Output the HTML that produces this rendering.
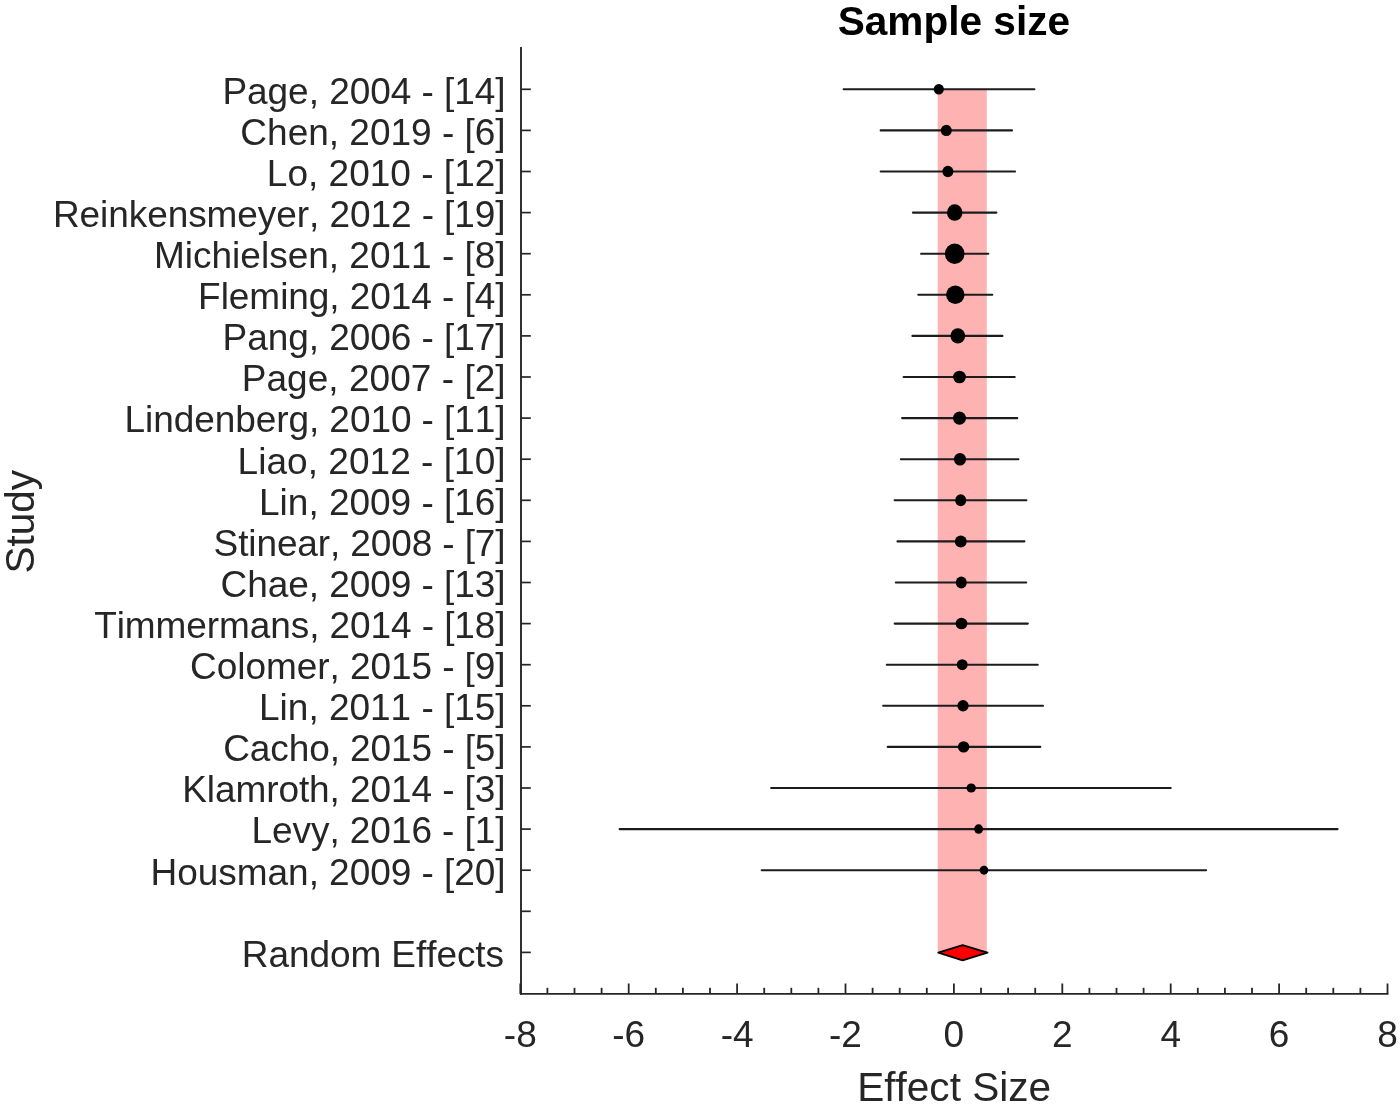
<!DOCTYPE html>
<html><head><meta charset="utf-8"><title>Sample size</title>
<style>
html,body{margin:0;padding:0;background:#fff;width:1400px;height:1107px;overflow:hidden}
svg{display:block;filter:blur(0.4px);font-family:"Liberation Sans",sans-serif;font-kerning:none}
</style></head><body>
<svg width="1400" height="1107" viewBox="0 0 1400 1107">
<rect width="1400" height="1107" fill="#fff"/>
<rect x="937.7" y="89.30" width="49.10" height="863.10" fill="#FFB2B2"/>
<line x1="843.6" y1="89.30" x2="1034.4" y2="89.30" stroke="#1c1c1c" stroke-width="2.1" stroke-linecap="round"/>
<line x1="880.7" y1="130.40" x2="1012.0" y2="130.40" stroke="#1c1c1c" stroke-width="2.1" stroke-linecap="round"/>
<line x1="880.7" y1="171.50" x2="1015.0" y2="171.50" stroke="#1c1c1c" stroke-width="2.1" stroke-linecap="round"/>
<line x1="912.9" y1="212.60" x2="996.4" y2="212.60" stroke="#1c1c1c" stroke-width="2.1" stroke-linecap="round"/>
<line x1="921.1" y1="253.70" x2="988.3" y2="253.70" stroke="#1c1c1c" stroke-width="2.1" stroke-linecap="round"/>
<line x1="918.3" y1="294.80" x2="992.3" y2="294.80" stroke="#1c1c1c" stroke-width="2.1" stroke-linecap="round"/>
<line x1="912.4" y1="335.90" x2="1002.4" y2="335.90" stroke="#1c1c1c" stroke-width="2.1" stroke-linecap="round"/>
<line x1="903.6" y1="377.00" x2="1014.7" y2="377.00" stroke="#1c1c1c" stroke-width="2.1" stroke-linecap="round"/>
<line x1="902.1" y1="418.10" x2="1017.3" y2="418.10" stroke="#1c1c1c" stroke-width="2.1" stroke-linecap="round"/>
<line x1="900.9" y1="459.20" x2="1018.4" y2="459.20" stroke="#1c1c1c" stroke-width="2.1" stroke-linecap="round"/>
<line x1="894.6" y1="500.30" x2="1026.4" y2="500.30" stroke="#1c1c1c" stroke-width="2.1" stroke-linecap="round"/>
<line x1="897.5" y1="541.40" x2="1024.4" y2="541.40" stroke="#1c1c1c" stroke-width="2.1" stroke-linecap="round"/>
<line x1="895.8" y1="582.50" x2="1026.2" y2="582.50" stroke="#1c1c1c" stroke-width="2.1" stroke-linecap="round"/>
<line x1="894.7" y1="623.60" x2="1027.8" y2="623.60" stroke="#1c1c1c" stroke-width="2.1" stroke-linecap="round"/>
<line x1="886.8" y1="664.70" x2="1037.7" y2="664.70" stroke="#1c1c1c" stroke-width="2.1" stroke-linecap="round"/>
<line x1="883.2" y1="705.80" x2="1043.0" y2="705.80" stroke="#1c1c1c" stroke-width="2.1" stroke-linecap="round"/>
<line x1="887.7" y1="746.90" x2="1040.3" y2="746.90" stroke="#1c1c1c" stroke-width="2.1" stroke-linecap="round"/>
<line x1="771.1" y1="788.00" x2="1170.7" y2="788.00" stroke="#1c1c1c" stroke-width="2.1" stroke-linecap="round"/>
<line x1="619.6" y1="829.10" x2="1337.6" y2="829.10" stroke="#1c1c1c" stroke-width="2.1" stroke-linecap="round"/>
<line x1="761.7" y1="870.20" x2="1206.1" y2="870.20" stroke="#1c1c1c" stroke-width="2.1" stroke-linecap="round"/>
<ellipse cx="938.8" cy="89.30" rx="5.10" ry="5.25" fill="#000"/>
<ellipse cx="946.3" cy="130.40" rx="5.50" ry="5.65" fill="#000"/>
<ellipse cx="947.9" cy="171.50" rx="5.50" ry="5.75" fill="#000"/>
<ellipse cx="954.7" cy="212.60" rx="7.75" ry="8.25" fill="#000"/>
<ellipse cx="954.7" cy="253.70" rx="9.80" ry="10.20" fill="#000"/>
<ellipse cx="955.3" cy="294.80" rx="9.25" ry="9.25" fill="#000"/>
<ellipse cx="957.8" cy="335.90" rx="7.35" ry="7.65" fill="#000"/>
<ellipse cx="959.5" cy="377.00" rx="6.40" ry="6.30" fill="#000"/>
<ellipse cx="959.5" cy="418.10" rx="6.50" ry="6.65" fill="#000"/>
<ellipse cx="960.0" cy="459.20" rx="6.00" ry="6.30" fill="#000"/>
<ellipse cx="960.7" cy="500.30" rx="5.50" ry="6.00" fill="#000"/>
<ellipse cx="960.8" cy="541.40" rx="5.95" ry="6.00" fill="#000"/>
<ellipse cx="961.3" cy="582.50" rx="5.50" ry="6.00" fill="#000"/>
<ellipse cx="961.5" cy="623.60" rx="5.90" ry="5.75" fill="#000"/>
<ellipse cx="962.2" cy="664.70" rx="5.45" ry="5.45" fill="#000"/>
<ellipse cx="963.0" cy="705.80" rx="5.65" ry="5.70" fill="#000"/>
<ellipse cx="963.6" cy="746.90" rx="5.65" ry="5.70" fill="#000"/>
<ellipse cx="971.2" cy="788.00" rx="4.70" ry="4.60" fill="#000"/>
<ellipse cx="978.6" cy="829.10" rx="4.45" ry="4.75" fill="#000"/>
<ellipse cx="984.0" cy="870.20" rx="4.35" ry="4.45" fill="#000"/>
<polygon points="938.3,952.70 962.6,945.10 987.5,952.70 962.6,960.30" fill="#FF0000" stroke="#000" stroke-width="1.9" stroke-linejoin="round"/>
<line x1="521.0" y1="47" x2="521.0" y2="994.8" stroke="#262626" stroke-width="1.9"/>
<line x1="520.05" y1="993.9" x2="1388.45" y2="993.9" stroke="#262626" stroke-width="1.9"/>
<line x1="521.0" y1="89.30" x2="530.8" y2="89.30" stroke="#262626" stroke-width="1.7"/>
<line x1="521.0" y1="130.40" x2="530.8" y2="130.40" stroke="#262626" stroke-width="1.7"/>
<line x1="521.0" y1="171.50" x2="530.8" y2="171.50" stroke="#262626" stroke-width="1.7"/>
<line x1="521.0" y1="212.60" x2="530.8" y2="212.60" stroke="#262626" stroke-width="1.7"/>
<line x1="521.0" y1="253.70" x2="530.8" y2="253.70" stroke="#262626" stroke-width="1.7"/>
<line x1="521.0" y1="294.80" x2="530.8" y2="294.80" stroke="#262626" stroke-width="1.7"/>
<line x1="521.0" y1="335.90" x2="530.8" y2="335.90" stroke="#262626" stroke-width="1.7"/>
<line x1="521.0" y1="377.00" x2="530.8" y2="377.00" stroke="#262626" stroke-width="1.7"/>
<line x1="521.0" y1="418.10" x2="530.8" y2="418.10" stroke="#262626" stroke-width="1.7"/>
<line x1="521.0" y1="459.20" x2="530.8" y2="459.20" stroke="#262626" stroke-width="1.7"/>
<line x1="521.0" y1="500.30" x2="530.8" y2="500.30" stroke="#262626" stroke-width="1.7"/>
<line x1="521.0" y1="541.40" x2="530.8" y2="541.40" stroke="#262626" stroke-width="1.7"/>
<line x1="521.0" y1="582.50" x2="530.8" y2="582.50" stroke="#262626" stroke-width="1.7"/>
<line x1="521.0" y1="623.60" x2="530.8" y2="623.60" stroke="#262626" stroke-width="1.7"/>
<line x1="521.0" y1="664.70" x2="530.8" y2="664.70" stroke="#262626" stroke-width="1.7"/>
<line x1="521.0" y1="705.80" x2="530.8" y2="705.80" stroke="#262626" stroke-width="1.7"/>
<line x1="521.0" y1="746.90" x2="530.8" y2="746.90" stroke="#262626" stroke-width="1.7"/>
<line x1="521.0" y1="788.00" x2="530.8" y2="788.00" stroke="#262626" stroke-width="1.7"/>
<line x1="521.0" y1="829.10" x2="530.8" y2="829.10" stroke="#262626" stroke-width="1.7"/>
<line x1="521.0" y1="870.20" x2="530.8" y2="870.20" stroke="#262626" stroke-width="1.7"/>
<line x1="521.0" y1="911.30" x2="530.8" y2="911.30" stroke="#262626" stroke-width="1.7"/>
<line x1="521.0" y1="952.40" x2="530.8" y2="952.40" stroke="#262626" stroke-width="1.7"/>
<line x1="520.30" y1="993.9" x2="520.30" y2="983.50" stroke="#262626" stroke-width="1.8"/>
<line x1="547.40" y1="993.9" x2="547.40" y2="987.80" stroke="#262626" stroke-width="1.8"/>
<line x1="574.50" y1="993.9" x2="574.50" y2="987.80" stroke="#262626" stroke-width="1.8"/>
<line x1="601.60" y1="993.9" x2="601.60" y2="987.80" stroke="#262626" stroke-width="1.8"/>
<line x1="628.70" y1="993.9" x2="628.70" y2="983.50" stroke="#262626" stroke-width="1.8"/>
<line x1="655.80" y1="993.9" x2="655.80" y2="987.80" stroke="#262626" stroke-width="1.8"/>
<line x1="682.90" y1="993.9" x2="682.90" y2="987.80" stroke="#262626" stroke-width="1.8"/>
<line x1="710.00" y1="993.9" x2="710.00" y2="987.80" stroke="#262626" stroke-width="1.8"/>
<line x1="737.10" y1="993.9" x2="737.10" y2="983.50" stroke="#262626" stroke-width="1.8"/>
<line x1="764.20" y1="993.9" x2="764.20" y2="987.80" stroke="#262626" stroke-width="1.8"/>
<line x1="791.30" y1="993.9" x2="791.30" y2="987.80" stroke="#262626" stroke-width="1.8"/>
<line x1="818.40" y1="993.9" x2="818.40" y2="987.80" stroke="#262626" stroke-width="1.8"/>
<line x1="845.50" y1="993.9" x2="845.50" y2="983.50" stroke="#262626" stroke-width="1.8"/>
<line x1="872.60" y1="993.9" x2="872.60" y2="987.80" stroke="#262626" stroke-width="1.8"/>
<line x1="899.70" y1="993.9" x2="899.70" y2="987.80" stroke="#262626" stroke-width="1.8"/>
<line x1="926.80" y1="993.9" x2="926.80" y2="987.80" stroke="#262626" stroke-width="1.8"/>
<line x1="953.90" y1="993.9" x2="953.90" y2="983.50" stroke="#262626" stroke-width="1.8"/>
<line x1="981.00" y1="993.9" x2="981.00" y2="987.80" stroke="#262626" stroke-width="1.8"/>
<line x1="1008.10" y1="993.9" x2="1008.10" y2="987.80" stroke="#262626" stroke-width="1.8"/>
<line x1="1035.20" y1="993.9" x2="1035.20" y2="987.80" stroke="#262626" stroke-width="1.8"/>
<line x1="1062.30" y1="993.9" x2="1062.30" y2="983.50" stroke="#262626" stroke-width="1.8"/>
<line x1="1089.40" y1="993.9" x2="1089.40" y2="987.80" stroke="#262626" stroke-width="1.8"/>
<line x1="1116.50" y1="993.9" x2="1116.50" y2="987.80" stroke="#262626" stroke-width="1.8"/>
<line x1="1143.60" y1="993.9" x2="1143.60" y2="987.80" stroke="#262626" stroke-width="1.8"/>
<line x1="1170.70" y1="993.9" x2="1170.70" y2="983.50" stroke="#262626" stroke-width="1.8"/>
<line x1="1197.80" y1="993.9" x2="1197.80" y2="987.80" stroke="#262626" stroke-width="1.8"/>
<line x1="1224.90" y1="993.9" x2="1224.90" y2="987.80" stroke="#262626" stroke-width="1.8"/>
<line x1="1252.00" y1="993.9" x2="1252.00" y2="987.80" stroke="#262626" stroke-width="1.8"/>
<line x1="1279.10" y1="993.9" x2="1279.10" y2="983.50" stroke="#262626" stroke-width="1.8"/>
<line x1="1306.20" y1="993.9" x2="1306.20" y2="987.80" stroke="#262626" stroke-width="1.8"/>
<line x1="1333.30" y1="993.9" x2="1333.30" y2="987.80" stroke="#262626" stroke-width="1.8"/>
<line x1="1360.40" y1="993.9" x2="1360.40" y2="987.80" stroke="#262626" stroke-width="1.8"/>
<line x1="1387.50" y1="993.9" x2="1387.50" y2="983.50" stroke="#262626" stroke-width="1.8"/>
<text x="505.60" y="103.60" text-anchor="end" font-size="37" textLength="283.19" lengthAdjust="spacing" fill="#262626">Page, 2004 - [14]</text>
<text x="505.60" y="144.70" text-anchor="end" font-size="37" textLength="265.24" lengthAdjust="spacing" fill="#262626">Chen, 2019 - [6]</text>
<text x="505.60" y="185.80" text-anchor="end" font-size="37" textLength="238.73" lengthAdjust="spacing" fill="#262626">Lo, 2010 - [12]</text>
<text x="505.60" y="226.90" text-anchor="end" font-size="37" textLength="452.72" lengthAdjust="spacing" fill="#262626">Reinkensmeyer, 2012 - [19]</text>
<text x="505.60" y="268.00" text-anchor="end" font-size="37" textLength="351.59" lengthAdjust="spacing" fill="#262626">Michielsen, 2011 - [8]</text>
<text x="505.60" y="309.10" text-anchor="end" font-size="37" textLength="307.48" lengthAdjust="spacing" fill="#262626">Fleming, 2014 - [4]</text>
<text x="505.60" y="350.20" text-anchor="end" font-size="37" textLength="283.09" lengthAdjust="spacing" fill="#262626">Pang, 2006 - [17]</text>
<text x="505.60" y="391.30" text-anchor="end" font-size="37" textLength="263.81" lengthAdjust="spacing" fill="#262626">Page, 2007 - [2]</text>
<text x="505.60" y="432.40" text-anchor="end" font-size="37" textLength="381.14" lengthAdjust="spacing" fill="#262626">Lindenberg, 2010 - [11]</text>
<text x="505.60" y="473.50" text-anchor="end" font-size="37" textLength="268.02" lengthAdjust="spacing" fill="#262626">Liao, 2012 - [10]</text>
<text x="505.60" y="514.60" text-anchor="end" font-size="37" textLength="246.54" lengthAdjust="spacing" fill="#262626">Lin, 2009 - [16]</text>
<text x="505.60" y="555.70" text-anchor="end" font-size="37" textLength="292.03" lengthAdjust="spacing" fill="#262626">Stinear, 2008 - [7]</text>
<text x="505.60" y="596.80" text-anchor="end" font-size="37" textLength="285.02" lengthAdjust="spacing" fill="#262626">Chae, 2009 - [13]</text>
<text x="505.60" y="637.90" text-anchor="end" font-size="37" textLength="411.41" lengthAdjust="spacing" fill="#262626">Timmermans, 2014 - [18]</text>
<text x="505.60" y="679.00" text-anchor="end" font-size="37" textLength="315.52" lengthAdjust="spacing" fill="#262626">Colomer, 2015 - [9]</text>
<text x="505.60" y="720.10" text-anchor="end" font-size="37" textLength="246.54" lengthAdjust="spacing" fill="#262626">Lin, 2011 - [15]</text>
<text x="505.60" y="761.20" text-anchor="end" font-size="37" textLength="282.44" lengthAdjust="spacing" fill="#262626">Cacho, 2015 - [5]</text>
<text x="505.60" y="802.30" text-anchor="end" font-size="37" textLength="323.45" lengthAdjust="spacing" fill="#262626">Klamroth, 2014 - [3]</text>
<text x="505.60" y="843.40" text-anchor="end" font-size="37" textLength="254.05" lengthAdjust="spacing" fill="#262626">Levy, 2016 - [1]</text>
<text x="505.60" y="884.50" text-anchor="end" font-size="37" textLength="355.03" lengthAdjust="spacing" fill="#262626">Housman, 2009 - [20]</text>
<text x="504.00" y="966.90" text-anchor="end" font-size="37" textLength="262.23" lengthAdjust="spacing" fill="#262626">Random Effects</text>
<text x="520.30" y="1047.2" text-anchor="middle" font-size="37" fill="#262626">-8</text>
<text x="628.70" y="1047.2" text-anchor="middle" font-size="37" fill="#262626">-6</text>
<text x="737.10" y="1047.2" text-anchor="middle" font-size="37" fill="#262626">-4</text>
<text x="845.50" y="1047.2" text-anchor="middle" font-size="37" fill="#262626">-2</text>
<text x="953.90" y="1047.2" text-anchor="middle" font-size="37" fill="#262626">0</text>
<text x="1062.30" y="1047.2" text-anchor="middle" font-size="37" fill="#262626">2</text>
<text x="1170.70" y="1047.2" text-anchor="middle" font-size="37" fill="#262626">4</text>
<text x="1279.10" y="1047.2" text-anchor="middle" font-size="37" fill="#262626">6</text>
<text x="1387.50" y="1047.2" text-anchor="middle" font-size="37" fill="#262626">8</text>
<text x="954.15" y="1101.2" text-anchor="middle" font-size="40.55" fill="#262626">Effect Size</text>
<text transform="translate(33.6,521.8) rotate(-90)" x="0" y="0" text-anchor="middle" font-size="40.5" fill="#262626">Study</text>
<text x="953.9" y="34.8" text-anchor="middle" font-size="40.6" font-weight="bold" fill="#000">Sample size</text>
</svg>
</body></html>
